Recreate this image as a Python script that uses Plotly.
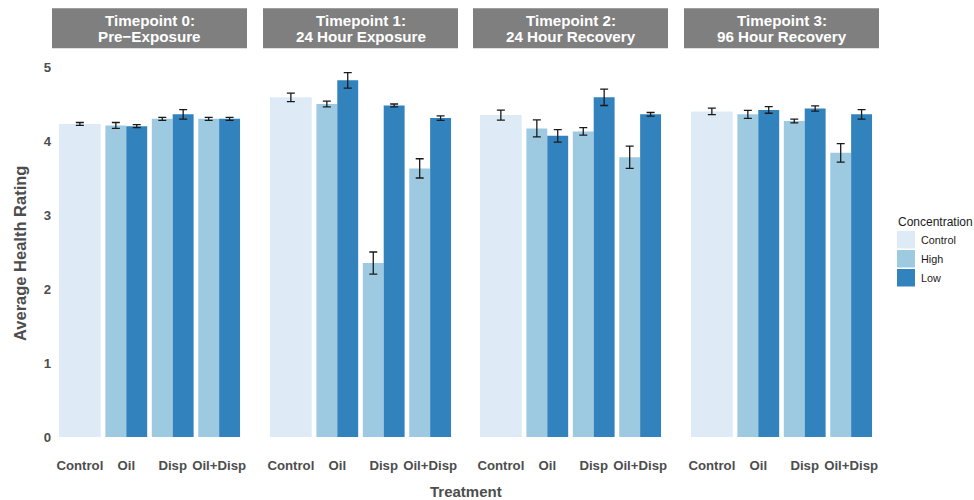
import plotly.graph_objects as go

# ---- data -------------------------------------------------------------
treatments = ["Control", "Oil", "Disp", "Oil+Disp"]
exposed = ["Oil", "Disp", "Oil+Disp"]
concentrations = ["Control", "High", "Low"]
colors = ["#deebf7", "#9ecae1", "#3182bd"]

strip_line1 = ["Timepoint 0:", "Timepoint 1:", "Timepoint 2:", "Timepoint 3:"]
strip_line2 = ["Pre\u2212Exposure", "24 Hour Exposure", "24 Hour Recovery", "96 Hour Recovery"]

control_mean = [4.23, 4.59, 4.35, 4.40]
control_se = [0.02, 0.057, 0.068, 0.043]

high_mean = [
    [4.21, 4.30, 4.30],
    [4.50, 2.35, 3.63],
    [4.17, 4.13, 3.78],
    [4.36, 4.27, 3.84],
]
high_se = [
    [0.04, 0.02, 0.02],
    [0.04, 0.15, 0.13],
    [0.115, 0.05, 0.15],
    [0.055, 0.025, 0.125],
]
low_mean = [
    [4.20, 4.36, 4.30],
    [4.82, 4.48, 4.31],
    [4.07, 4.59, 4.36],
    [4.42, 4.44, 4.36],
]
low_se = [
    [0.02, 0.065, 0.02],
    [0.105, 0.02, 0.03],
    [0.085, 0.11, 0.025],
    [0.045, 0.035, 0.065],
]

y_ticks = [0, 1, 2, 3, 4, 5]

# ---- layout helpers -----------------------------------------------------
W, H = 974, 500
FONT = "Liberation Sans, Arial, Helvetica, sans-serif"
TICK_COL = "#4d4d4d"
ERR_COL = "#1a1a1a"


def fx(px):
    return px / W


def fy(px):
    return 1 - px / H


panel_left = [52, 263, 473, 684]
panel_w = 195
panel_top, panel_bot = 52.2, 455.5

fig = go.Figure()

err_style = dict(type="data", color=ERR_COL, thickness=1.3, width=4, visible=True)

for i in range(4):
    xa = "x" if i == 0 else f"x{i + 1}"
    ya = "y" if i == 0 else f"y{i + 1}"
    # single full-width control bar
    fig.add_trace(go.Bar(
        x=["Control"], y=[control_mean[i]], xaxis=xa, yaxis=ya,
        width=0.9, offset=-0.45, marker=dict(color=colors[0], line=dict(width=0)),
        error_y=dict(array=[control_se[i]], **err_style),
        name="Control", showlegend=False,
    ))
    # dodged high / low concentration bars
    fig.add_trace(go.Bar(
        x=exposed, y=high_mean[i], xaxis=xa, yaxis=ya,
        width=0.45, offset=-0.45, marker=dict(color=colors[1], line=dict(width=0)),
        error_y=dict(array=high_se[i], **err_style),
        name="High", showlegend=False,
    ))
    fig.add_trace(go.Bar(
        x=exposed, y=low_mean[i], xaxis=xa, yaxis=ya,
        width=0.45, offset=0.0, marker=dict(color=colors[2], line=dict(width=0)),
        error_y=dict(array=low_se[i], **err_style),
        name="Low", showlegend=False,
    ))

layout = dict(
    width=W, height=H,
    margin=dict(l=0, r=0, t=0, b=0),
    paper_bgcolor="white", plot_bgcolor="white",
    barmode="overlay",
    font=dict(family=FONT, color=TICK_COL),
    showlegend=False,
)

shapes = []
annotations = []
for i in range(4):
    sx = "" if i == 0 else str(i + 1)
    x0 = panel_left[i]
    x1 = x0 + panel_w
    layout[f"xaxis{sx}"] = dict(
        domain=[fx(x0), fx(x1)], anchor=f"y{sx}",
        type="category", categoryorder="array", categoryarray=treatments,
        range=[-0.6, 3.6], showgrid=False, zeroline=False, showline=False,
        ticks="", tickfont=dict(family=FONT, size=13.2, color=TICK_COL, weight="bold"),
        fixedrange=True,
    )
    layout[f"yaxis{sx}"] = dict(
        domain=[fy(panel_bot), fy(panel_top)], anchor=f"x{sx}",
        range=[-0.25, 5.2], showgrid=False, zeroline=False, showline=False,
        tickvals=y_ticks, ticks="", showticklabels=(i == 0),
        tickfont=dict(family=FONT, size=13.2, color=TICK_COL, weight="bold"),
        fixedrange=True,
    )
    if i > 0:
        layout[f"yaxis{sx}"]["matches"] = "y"
    # facet strip
    shapes.append(dict(
        type="rect", xref="paper", yref="paper",
        x0=fx(x0), x1=fx(x1), y0=fy(48.3), y1=fy(8.3),
        fillcolor="#7f7f7f", line=dict(width=0), layer="above",
    ))
    cx = fx((x0 + x1) / 2)
    for line, ypx in ((strip_line1[i], 20.5), (strip_line2[i], 37.0)):
        annotations.append(dict(
            text=line, xref="paper", yref="paper", x=cx, y=fy(ypx),
            xanchor="center", yanchor="middle", showarrow=False,
            font=dict(family=FONT, size=15.2, color="white", weight="bold"),
        ))

# axis titles
annotations.append(dict(
    text="Average Health Rating", xref="paper", yref="paper",
    x=fx(20), y=fy(254), textangle=-90, xanchor="center", yanchor="middle",
    showarrow=False, font=dict(family=FONT, size=16.5, color=TICK_COL, weight="bold"),
))
annotations.append(dict(
    text="Treatment", xref="paper", yref="paper",
    x=fx(466), y=fy(491), xanchor="center", yanchor="middle",
    showarrow=False, font=dict(family=FONT, size=15, color=TICK_COL, weight="bold"),
))

# legend for concentration fills
annotations.append(dict(
    text="Concentration", xref="paper", yref="paper",
    x=fx(896), y=fy(222), xanchor="left", yanchor="middle",
    showarrow=False, font=dict(family=FONT, size=12, color="#1a1a1a"),
))
for k, (name, col) in enumerate(zip(concentrations, colors)):
    top = 231 + 19 * k
    shapes.append(dict(
        type="rect", xref="paper", yref="paper",
        x0=fx(897), x1=fx(915), y0=fy(top + 17.5), y1=fy(top),
        fillcolor=col, line=dict(width=0),
    ))
    annotations.append(dict(
        text=name, xref="paper", yref="paper",
        x=fx(919), y=fy(top + 8.8), xanchor="left", yanchor="middle",
        showarrow=False, font=dict(family=FONT, size=10.8, color="#1a1a1a"),
    ))

layout["shapes"] = shapes
layout["annotations"] = annotations
fig.update_layout(**layout)

fig.write_html("out.html")
